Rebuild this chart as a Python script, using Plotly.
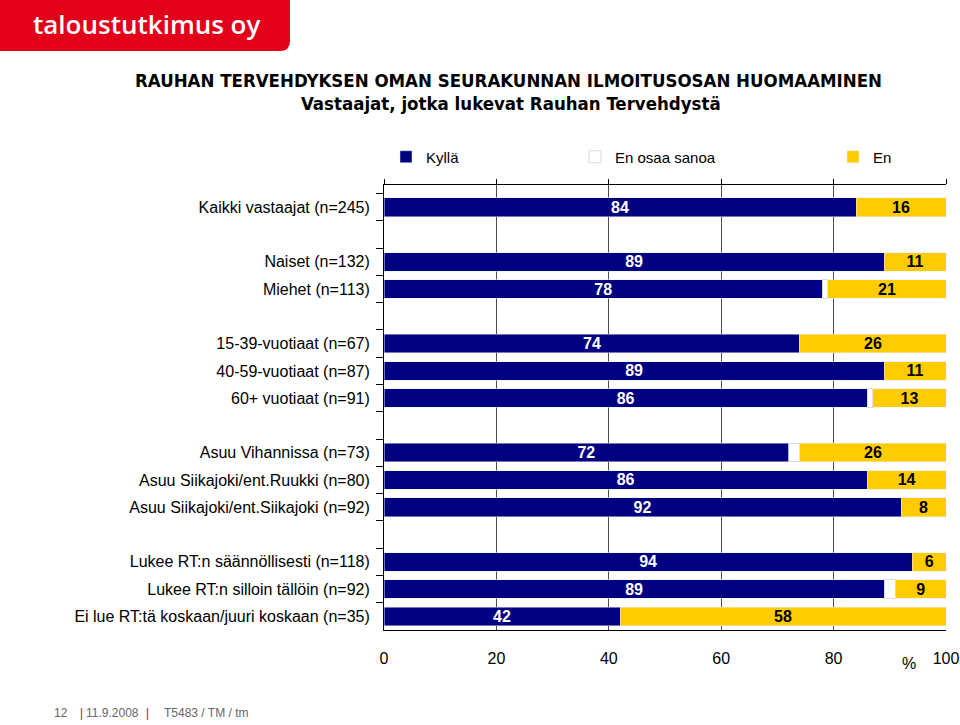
import plotly.graph_objects as go

# ---- data ----
groups = [
    ["Kaikki vastaajat (n=245)"],
    ["Naiset (n=132)", "Miehet (n=113)"],
    ["15-39-vuotiaat (n=67)", "40-59-vuotiaat (n=87)", "60+ vuotiaat (n=91)"],
    ["Asuu Vihannissa (n=73)", "Asuu Siikajoki/ent.Ruukki (n=80)", "Asuu Siikajoki/ent.Siikajoki (n=92)"],
    ["Lukee RT:n säännöllisesti (n=118)", "Lukee RT:n silloin tällöin (n=92)",
     "Ei lue RT:tä koskaan/juuri koskaan (n=35)"],
]
kylla = [[84], [89, 78], [74, 89, 86], [72, 86, 92], [94, 89, 42]]
eos   = [[0],  [0, 1],   [0, 0, 1],   [2, 0, 0],   [0, 2, 0]]
en    = [[16], [11, 21], [26, 11, 13], [26, 14, 8], [6, 9, 58]]
series_names = ["Kyllä", "En osaa sanoa", "En"]
xticks = [0, 20, 40, 60, 80, 100]

# build category list with blank spacer rows between groups
cats, yk, ye, yn = [], [], [], []
for gi, g in enumerate(groups):
    if gi > 0:
        cats.append(" " * gi)
        yk.append(None); ye.append(None); yn.append(None)
    cats += g
    yk += kylla[gi]; ye += eos[gi]; yn += en[gi]

NAVY = "#000080"
GOLD = "#FFCC00"
FONT = "Liberation Sans, Arial, sans-serif"
NARROW = "Liberation Sans Narrow, Arial Narrow, DejaVu Sans Condensed, sans-serif"

# plot area in pixels
L, R, T, B = 384, 946, 185, 630
W, H = 960, 725
PW, PH = R - L, B - T


def px(x):
    return (x - L) / PW


def py(y):
    return (B - y) / PH


fig = go.Figure()
fig.add_trace(go.Bar(
    y=cats, x=yk, orientation="h", name=series_names[0], marker_color=NAVY,
    text=yk, texttemplate="%{x}", textposition="inside", insidetextanchor="middle",
    constraintext="none", cliponaxis=False,
    textangle=0, textfont=dict(color="white", size=16, family=FONT, weight="bold"),
    legend="legend",
))
fig.add_trace(go.Bar(
    y=cats, x=ye, orientation="h", name=series_names[1],
    marker=dict(color="white", line=dict(color="#cccccc", width=0.7)),
    textposition="none", legend="legend2",
))
fig.add_trace(go.Bar(
    y=cats, x=yn, orientation="h", name=series_names[2], marker_color=GOLD,
    text=yn, texttemplate="%{x}", textposition="inside", insidetextanchor="middle",
    constraintext="none", cliponaxis=False,
    textangle=0, textfont=dict(color="black", size=16, family=FONT, weight="bold"),
    legend="legend3",
))
# invisible trace on top axis so that it is drawn
fig.add_trace(go.Scatter(x=[0, 100], y=[cats[0], cats[0]], xaxis="x2", mode="lines",
                         line=dict(width=0), showlegend=False, hoverinfo="skip"))

leg_common = dict(orientation="h", xref="container", yref="container",
                  yanchor="middle", bgcolor="rgba(0,0,0,0)", itemwidth=30,
                  font=dict(family=FONT, size=15, color="black"))
fig.update_layout(
    width=W, height=H,
    paper_bgcolor="white", plot_bgcolor="white",
    barmode="stack", bargap=0.32,
    margin=dict(l=L, r=W - R, t=T, b=H - B, autoexpand=False),
    font=dict(family=FONT, size=16, color="black"),
    showlegend=True,
    legend=dict(x=(426 - 40) / W, y=1 - 157 / H, **leg_common),
    legend2=dict(x=(615 - 40) / W, y=1 - 157 / H, **leg_common),
    legend3=dict(x=(873 - 40) / W, y=1 - 157 / H, **leg_common),
    xaxis=dict(range=[0, 100], tickvals=xticks, showgrid=True, gridcolor="#4d4d4d",
               gridwidth=1, showline=True, linecolor="black", linewidth=1,
               ticks="", zeroline=False, tickfont=dict(size=16), ticklabelstandoff=14,
               automargin=False),
    xaxis2=dict(range=[0, 100], tickvals=xticks, overlaying="x", side="top",
                anchor="y", showticklabels=False, showgrid=False, showline=True,
                linecolor="black", linewidth=1, ticks="outside", ticklen=5,
                tickcolor="black", zeroline=False, automargin=False),
    yaxis=dict(type="category", categoryorder="array", categoryarray=cats,
               autorange="reversed", showline=True, linecolor="black", linewidth=1,
               ticks="outside", tickson="boundaries", ticklen=7, tickcolor="black",
               showgrid=False, tickfont=dict(size=16), ticklabelstandoff=10,
               automargin=False),
)

# title
fig.add_annotation(text="<b>RAUHAN TERVEHDYKSEN OMAN SEURAKUNNAN ILMOITUSOSAN HUOMAAMINEN</b>",
                   xref="paper", yref="paper", x=px(508), y=py(80),
                   showarrow=False, font=dict(size=18.5, color="black", family=NARROW),
                   xanchor="center", yanchor="middle")
fig.add_annotation(text="<b>Vastaajat, jotka lukevat Rauhan Tervehdystä</b>",
                   xref="paper", yref="paper", x=px(511), y=py(104),
                   showarrow=False, font=dict(size=18.5, color="black", family=NARROW),
                   xanchor="center", yanchor="middle")
# percent sign
fig.add_annotation(text="%", xref="paper", yref="paper", x=px(909), y=py(663),
                   showarrow=False, font=dict(size=16), xanchor="center", yanchor="middle")

# logo
fig.add_shape(type="path", xref="paper", yref="paper",
              path="M {x0} {y0} L {x1} {y0} L {x1} {y2} Q {x1} {y1} {x3} {y1} L {x0} {y1} Z".format(
                  x0=px(0), x1=px(290), x3=px(280), y0=py(0), y1=py(51), y2=py(41)),
              fillcolor="#E2001A", line=dict(width=0), layer="above")
fig.add_annotation(text="taloustutkimus oy", xref="paper", yref="paper",
                   x=px(146), y=py(24), showarrow=False,
                   font=dict(family="Open Sans, sans-serif", size=26, color="white", weight=600),
                   xanchor="center", yanchor="middle")

# footer
foot = [("12", 61, "#666666"), ("|", 81, "#E2001A"), ("11.9.2008", 112, "#666666"),
        ("|", 147, "#E2001A"), ("T5483 / TM / tm", 206, "#666666")]
for t, xp, c in foot:
    fig.add_annotation(text=t, xref="paper", yref="paper", x=px(xp), y=py(713),
                       showarrow=False, font=dict(size=12, color=c),
                       xanchor="center", yanchor="middle")

fig.write_html("out.html", config={"displayModeBar": False},
               post_script="document.body.style.margin='0';")
